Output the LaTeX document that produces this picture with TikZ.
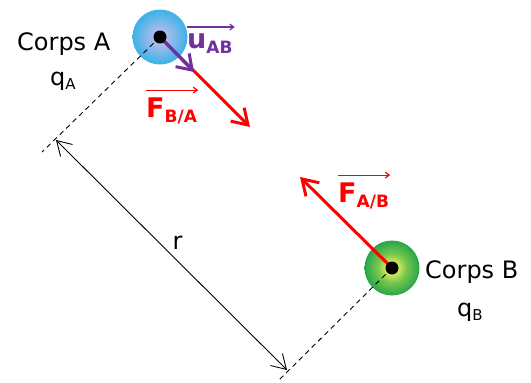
\documentclass[tikz,border=0pt]{standalone}
\usepackage{fontspec}
\setmainfont{DejaVu Sans}
\usetikzlibrary{arrows.meta,calc}
\definecolor{fred}{RGB}{255,0,0}
\definecolor{upurple}{RGB}{112,48,160}
\definecolor{bin}{RGB}{205,190,235}
\definecolor{bout}{RGB}{58,178,232}
\definecolor{gin}{RGB}{230,240,105}
\definecolor{gmid}{RGB}{120,200,75}
\definecolor{gout}{RGB}{40,165,75}
\pgfdeclareradialshading{blueball}{\pgfpoint{0bp}{0bp}}{color(0bp)=(bin); color(8bp)=(bin!70!bout); color(25bp)=(bout); color(50bp)=(bout)}
\pgfdeclareradialshading{greenball}{\pgfpoint{0bp}{0bp}}{color(0bp)=(gin); color(4bp)=(gin); color(13bp)=(gmid); color(25bp)=(gout); color(50bp)=(gout)}
\newcommand\mysub[1]{\raisebox{-4pt}{\fontsize{15}{15}\selectfont #1}}
\newcommand\myvsub[1]{\raisebox{-5pt}{\fontsize{17}{17}\selectfont #1}}
\begin{document}
\begin{tikzpicture}[x=1pt,y=-1pt,
  body/.style={circle, minimum size=55pt, inner sep=0pt},
  centre/.style={circle, fill=black, minimum size=13pt, inner sep=0pt},
  force/.style={draw=fred, line width=3pt, -{Straight Barb[length=15pt,width=19pt,line width=3pt]}},
  unitvec/.style={draw=upurple, line width=3pt, -{Straight Barb[length=14pt,width=19pt,line width=3pt]}},
  dist/.style={draw=black, line width=0.9pt, {Straight Barb[length=14pt,width=17pt,line width=0.9pt]}-{Straight Barb[length=14pt,width=17pt,line width=0.9pt]}},
  guide/.style={draw=black, line width=0.9pt, dash pattern=on 5pt off 4pt},
  overarr/.style={line width=1.2pt, -{Straight Barb[length=4pt,width=6pt,line width=1.2pt]}},
  txt/.style={anchor=base west, inner sep=0pt, font=\fontsize{24}{28}\selectfont},
  vlabel/.style={anchor=base west, inner sep=0pt, font=\bfseries\fontsize{27}{30}\selectfont}
]
\useasboundingbox (0,0) rectangle (531,383);

% bodies
\node[body, shading=blueball] (A) at (160,37) {};
\node[body, shading=greenball] (B) at (392,268) {};

% guide lines
\coordinate (Ad) at ($(A.center)+(-118,115)$);
\coordinate (Bd) at ($(B.center)+(-115,114)$);
\draw[guide] (A.center) -- (Ad);
\draw[guide] (B.center) -- (Bd);

% distance arrow
\coordinate (r1) at ($(A.center)+(-104,103)$);
\coordinate (r2) at ($(B.center)+(-105,102)$);
\draw[dist] (r1) -- node[midway, xshift=6pt, yshift=12pt, font=\fontsize{24}{28}\selectfont] (rl) {r} (r2);

% forces
\coordinate (FBAt) at ($(A.center)+(90,90)$);
\coordinate (uABt) at ($(A.center)+(34,35)$);
\coordinate (FABt) at ($(B.center)+(-92,-91)$);
\draw[force] (A.center) -- (FBAt);
\draw[unitvec] (A.center) -- (uABt);
\draw[force] (B.center) -- (FABt);

% centres
\node[centre] (Ac) at (A.center) {};
\node[centre] (Bc) at (B.center) {};

% texts
\node[txt] (cA) at (17,50) {Corps A};
\node[txt] (qA) at (50,85) {q\mysub{A}};
\node[txt] (cB) at (425,278) {Corps B};
\node[txt] (qB) at (457,316) {q\mysub{B}};

% vector labels
\node[vlabel, text=upurple] (uAB) at (187,48) {u\myvsub{AB}};
\node[vlabel, text=fred] (FBA) at (146,117) {F\myvsub{B/A}};
\node[vlabel, text=fred] (FAB) at (338,202) {F\myvsub{A/B}};
\draw[overarr, upurple] ($(uAB.north west)+(0,-6)$) -- ($(uAB.north east)+(2,-6)$);
\draw[overarr, fred] ($(FBA.north west)+(0,-7)$) -- ($(FBA.north east)+(1,-7)$);
\draw[overarr, fred] ($(FAB.north west)+(0,-7)$) -- ($(FAB.north east)+(1,-7)$);
\end{tikzpicture}
\end{document}
